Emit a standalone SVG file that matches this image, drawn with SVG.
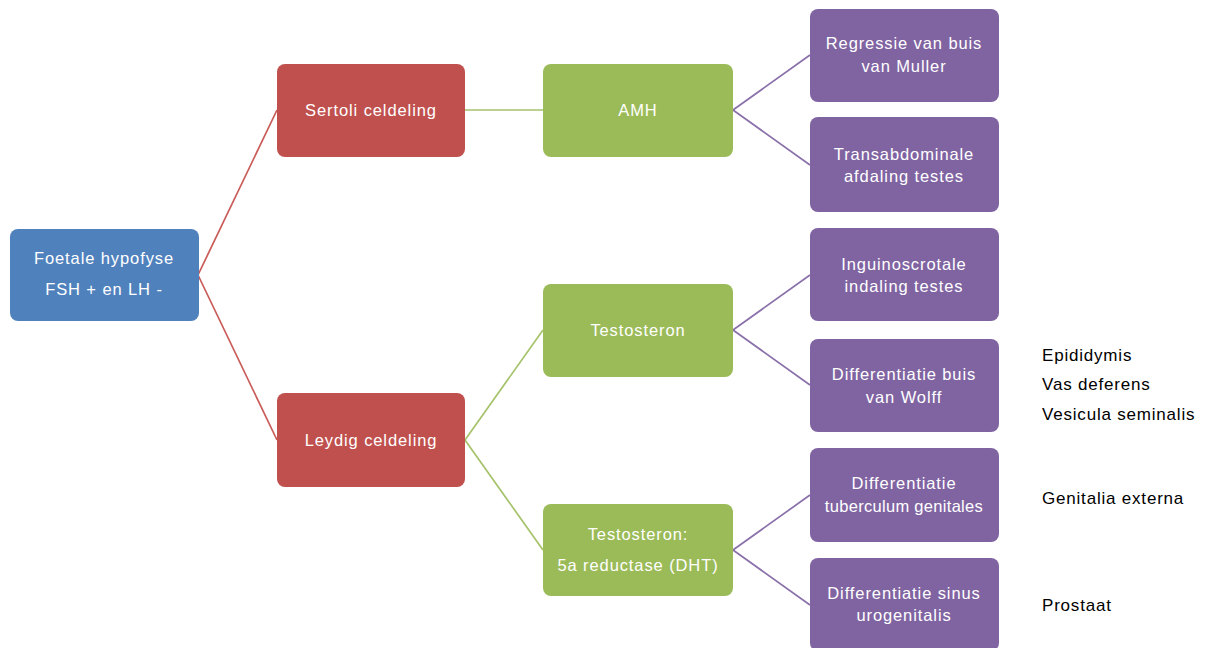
<svg xmlns="http://www.w3.org/2000/svg" width="1211" height="648" viewBox="0 0 1211 648">
<style>
.n rect{rx:8;ry:8}
.blue rect{fill:#4F81BD}
.red rect{fill:#C0504D}
.green rect{fill:#9BBB59}
.purple rect{fill:#8064A2}
.n text{font-family:"Liberation Sans",Arial,sans-serif;font-size:16.5px;fill:#fff;text-anchor:middle;letter-spacing:0.9px}
.side{font-family:"Liberation Sans",Arial,sans-serif;font-size:17px;fill:#000;letter-spacing:0.8px}
.c line{stroke-width:1.7;fill:none}
.cr line{stroke:#C95B58}
.cg line{stroke:#A5C26A}
.cp line{stroke:#8A70AA}
</style>
<rect width="1211" height="648" fill="#fff"/>
<g id="connectors" class="c">
 <g class="cr">
  <line x1="198" y1="275" x2="277" y2="110"/>
  <line x1="198" y1="275" x2="277" y2="440"/>
 </g>
 <g class="cg">
  <line x1="465" y1="110" x2="543" y2="110"/>
  <line x1="465" y1="440" x2="543" y2="330"/>
  <line x1="465" y1="440" x2="543" y2="550"/>
 </g>
 <g class="cp">
  <line x1="733" y1="110" x2="810" y2="55"/>
  <line x1="733" y1="110" x2="810" y2="165"/>
  <line x1="733" y1="330" x2="810" y2="275"/>
  <line x1="733" y1="330" x2="810" y2="385"/>
  <line x1="733" y1="550" x2="810" y2="495"/>
  <line x1="733" y1="550" x2="810" y2="605"/>
 </g>
</g>
<g id="foetale" class="n blue"><rect x="10" y="229" width="189" height="92"/><text x="104" y="264">Foetale hypofyse</text><text x="104" y="295">FSH + en LH -</text></g>
<g id="sertoli" class="n red"><rect x="277" y="64" width="188" height="93"/><text x="371" y="116">Sertoli celdeling</text></g>
<g id="leydig" class="n red"><rect x="277" y="393" width="188" height="94"/><text x="371" y="446">Leydig celdeling</text></g>
<g id="amh" class="n green"><rect x="543" y="64" width="190" height="93"/><text x="638" y="116">AMH</text></g>
<g id="testosteron" class="n green"><rect x="543" y="284" width="190" height="93"/><text x="638" y="336">Testosteron</text></g>
<g id="dht" class="n green"><rect x="543" y="504" width="190" height="92"/><text x="638" y="540">Testosteron:</text><text x="638" y="571">5a reductase (DHT)</text></g>
<g id="muller" class="n purple"><rect x="810" y="9" width="189" height="93"/><text x="904" y="49">Regressie van buis</text><text x="904" y="72">van Muller</text></g>
<g id="transabd" class="n purple"><rect x="810" y="117" width="189" height="95"/><text x="904" y="160">Transabdominale</text><text x="904" y="182">afdaling testes</text></g>
<g id="inguino" class="n purple"><rect x="810" y="228" width="189" height="93"/><text x="904" y="270">Inguinoscrotale</text><text x="904" y="292">indaling testes</text></g>
<g id="wolff" class="n purple"><rect x="810" y="339" width="189" height="93"/><text x="904" y="380">Differentiatie buis</text><text x="904" y="403">van Wolff</text></g>
<g id="tuberculum" class="n purple"><rect x="810" y="448" width="189" height="94"/><text x="904" y="489">Differentiatie</text><text x="904" y="512" style="letter-spacing:0.3px">tuberculum genitales</text></g>
<g id="sinus" class="n purple"><rect x="810" y="558" width="189" height="93"/><text x="904" y="599">Differentiatie sinus</text><text x="904" y="621">urogenitalis</text></g>
<g id="side-labels">
 <text class="side" x="1042" y="361">Epididymis</text>
 <text class="side" x="1042" y="390">Vas deferens</text>
 <text class="side" x="1042" y="420">Vesicula seminalis</text>
 <text class="side" x="1042" y="504">Genitalia externa</text>
 <text class="side" x="1042" y="611">Prostaat</text>
</g>
</svg>
